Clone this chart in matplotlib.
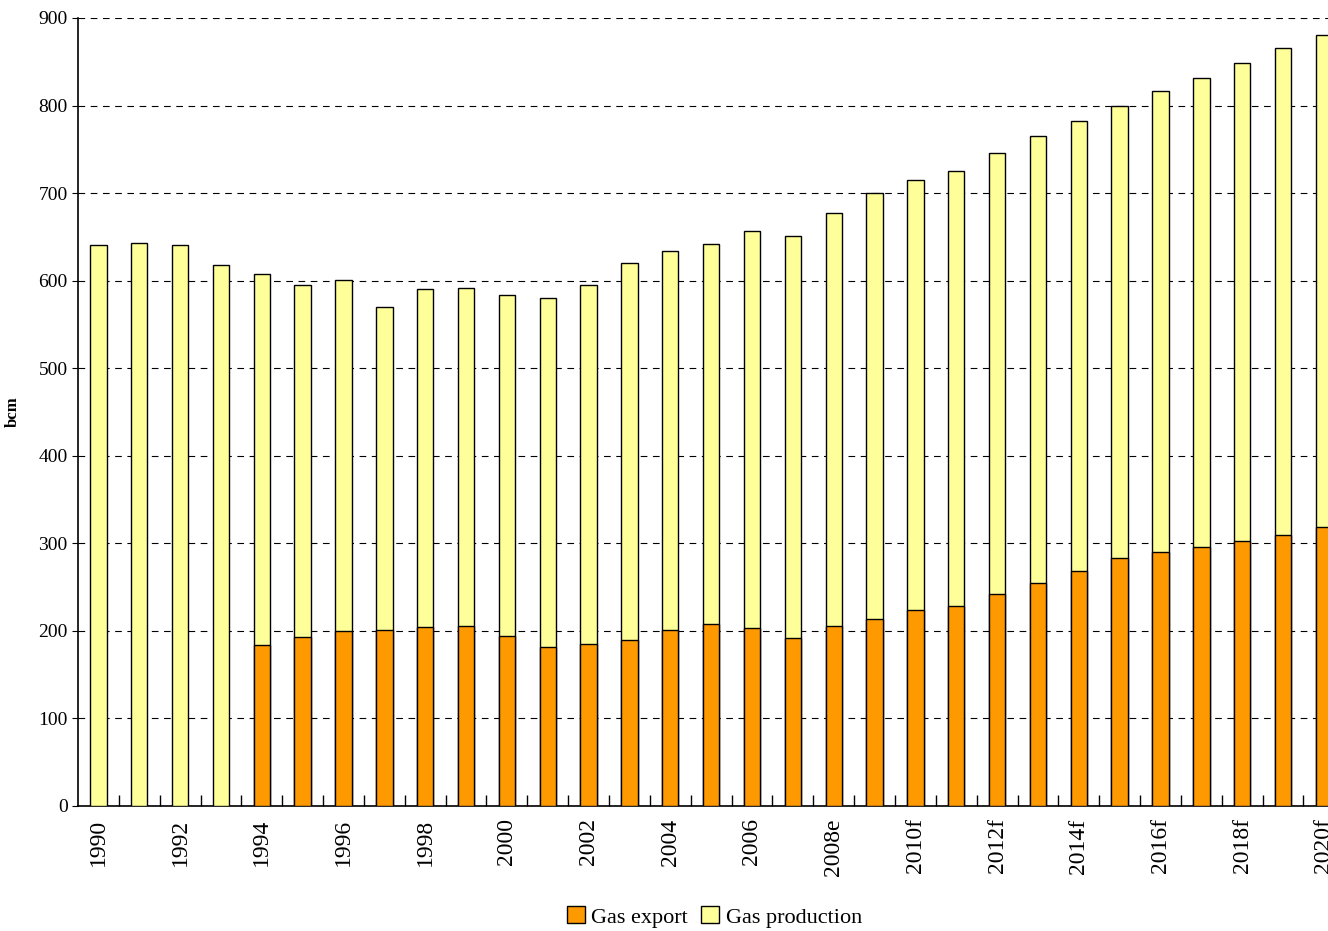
import matplotlib
matplotlib.use("Agg")
import matplotlib.pyplot as plt
import numpy as np

plt.rcParams['font.family'] = ['Liberation Serif', 'DejaVu Serif']

years = ['1990', '1991', '1992', '1993', '1994', '1995', '1996', '1997', '1998', '1999',
         '2000', '2001', '2002', '2003', '2004', '2005', '2006', '2007', '2008e', '2009f',
         '2010f', '2011f', '2012f', '2013f', '2014f', '2015f', '2016f', '2017f', '2018f',
         '2019f', '2020f']
production = [641, 643, 641, 618, 608, 595, 601, 570, 590, 592,
              584, 580, 595, 620, 634, 642, 657, 651, 677, 700,
              715, 725, 746, 765, 782, 800, 817, 832, 849, 866, 880]
export = [np.nan, np.nan, np.nan, np.nan, 184, 193, 200, 201, 204, 205,
          194, 182, 185, 190, 201, 208, 203, 192, 205, 214,
          224, 228, 242, 255, 268, 283, 290, 296, 303, 310, 319]

x = np.arange(len(years))
fig = plt.figure(figsize=(13.28, 9.31), dpi=100)
ax = fig.add_axes([0.0587, 0.1343, 0.9536, 0.8464])

bw = 0.4
ax.bar(x, production, width=bw, color='#ffff99', edgecolor='black', linewidth=1.0,
       label='Gas production', zorder=3)
ax.bar(x, export, width=bw, color='#ff9900', edgecolor='black', linewidth=1.0,
       label='Gas export', zorder=4)

ax.set_xlim(-0.5, len(years) - 0.5)
ax.set_ylim(0, 900)
ax.set_yticks(np.arange(0, 901, 100))
ax.yaxis.grid(True, linestyle=(0, (6, 5)), color='black', linewidth=0.8, zorder=0)

# labels every other year, tick marks on slot boundaries
ax.set_xticks(x[::2])
ax.set_xticklabels(years[::2], rotation=90, fontsize=17)
ax.tick_params(axis='x', which='major', length=0, pad=9)
ax.set_xticks(np.arange(0.5, len(years) - 0.5, 1), minor=True)
ax.tick_params(axis='x', which='minor', direction='in', length=8, width=1)
ax.tick_params(axis='y', labelsize=14, direction='out', length=4)

for side in ['top', 'right']:
    ax.spines[side].set_visible(False)
ax.spines['left'].set_linewidth(1.2)
ax.spines['bottom'].set_linewidth(1.2)

ax.set_ylabel('bcm', fontsize=12, fontweight='bold')
ax.yaxis.set_label_coords(-0.045, 0.5)

handles, labels = ax.get_legend_handles_labels()
fig.legend(handles[::-1], labels[::-1], loc='center', bbox_to_anchor=(0.538, 0.015),
           ncol=2, frameon=False, fontsize=16, handlelength=0.8, handleheight=0.8,
           handletextpad=0.3, columnspacing=0.6)

fig.savefig('out.png', dpi=100)
